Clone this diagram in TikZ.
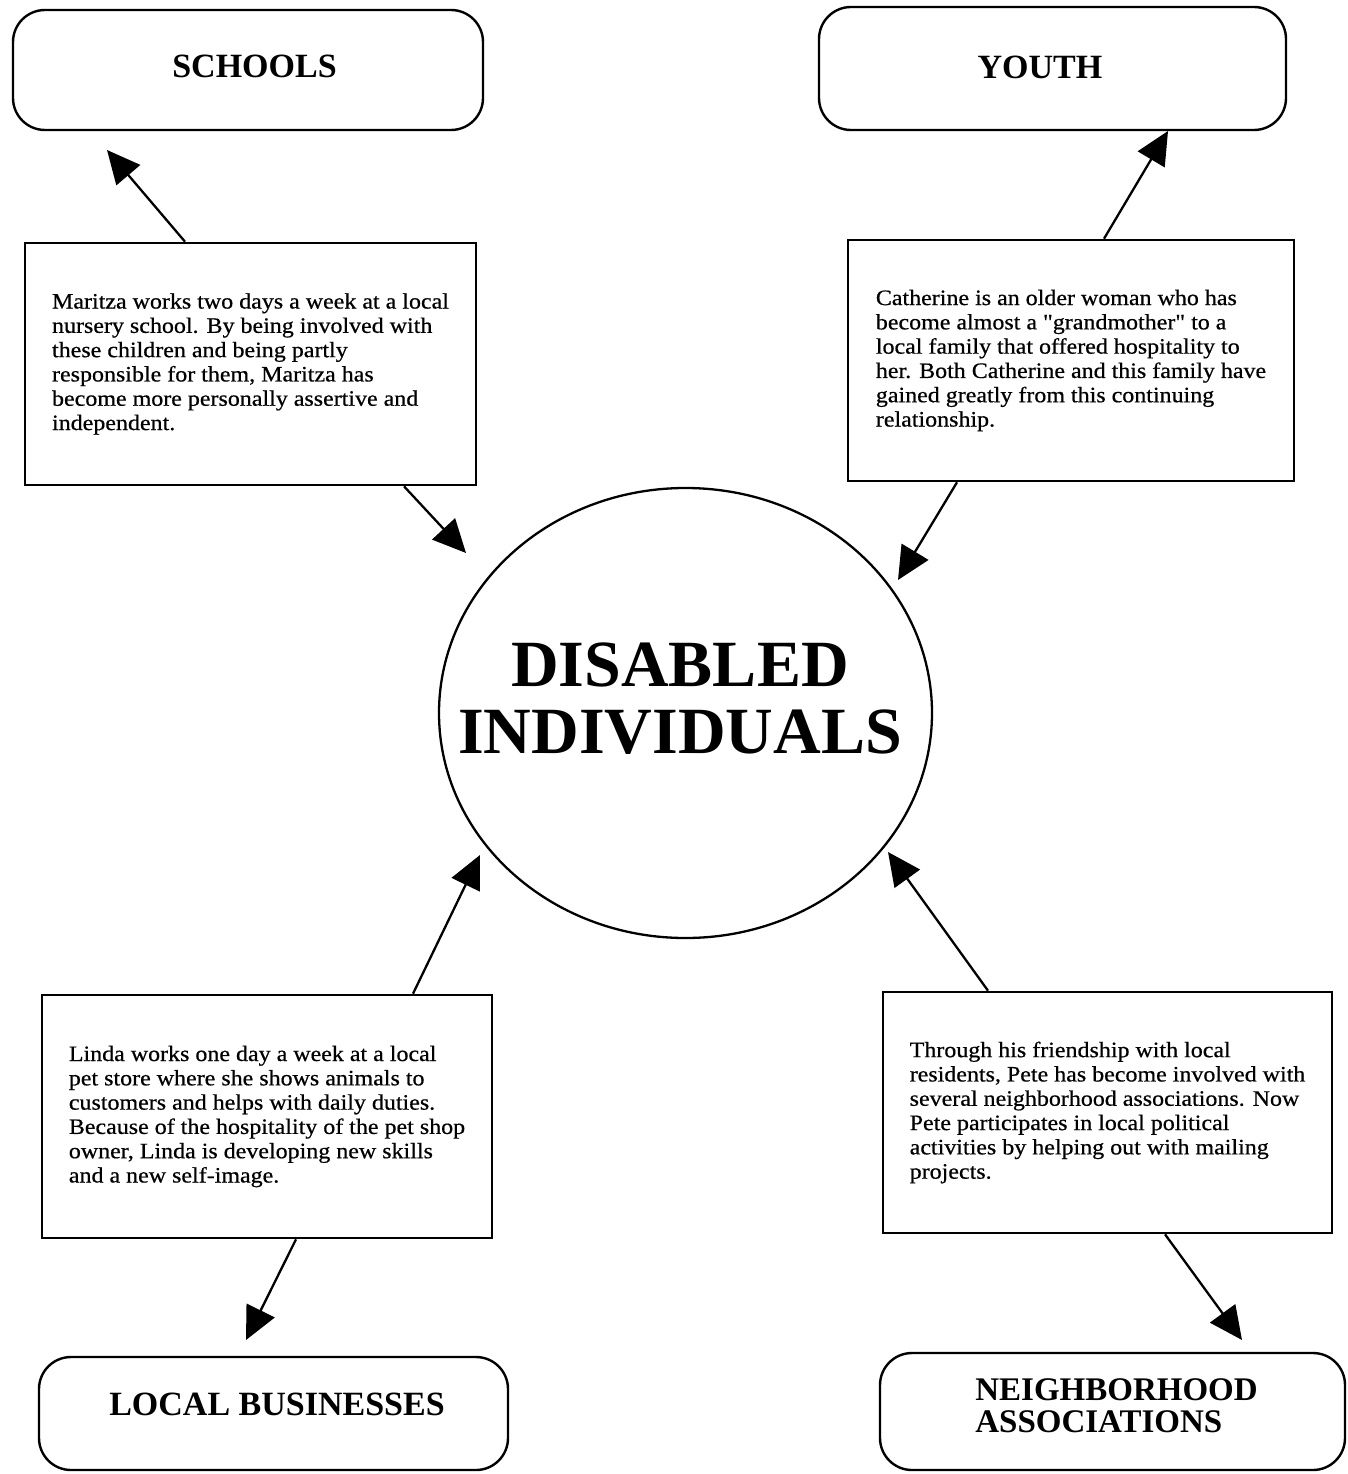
\documentclass[tikz,border=0pt]{standalone}
\usepackage{fontspec}
\setmainfont{Liberation Serif}
\newfontfamily\bodyfont{Liberation Serif}[FakeStretch=1.09, FakeBold=0.6, Ligatures=TeXOff]
\usetikzlibrary{arrows.meta,shapes.geometric}

\begin{document}
\begin{tikzpicture}[x=1pt,y=-1pt,
  story/.style={draw, line width=2.6pt, rectangle, inner sep=0pt, align=left,
    font=\bodyfont\fontsize{22pt}{24.3pt}\selectfont},
  group/.style={draw, line width=2.4pt, rounded corners=32pt, rectangle, inner sep=0pt},
  grouptitle/.style={inner sep=0pt, align=left, font=\bfseries\fontsize{34pt}{32pt}\selectfont},
  link/.style={line width=2.3pt, -{Triangle[length=33pt,width=31pt]}},
]
\useasboundingbox (0,0) rectangle (1348,1474);

% community groups
\node[group, minimum width=470pt, minimum height=120pt] (schools) at (248,70) {};
\node[grouptitle] (schoolsT) at (254.5,66.5) {SCHOOLS};
\node[group, minimum width=467pt, minimum height=123pt] (youth) at (1052.5,68.5) {};
\node[grouptitle] (youthT) at (1040,67.5) {YOUTH};
\node[group, minimum width=469pt, minimum height=113pt] (business) at (273.5,1413.5) {};
\node[grouptitle] (businessT) at (277,1404.5) {LOCAL BUSINESSES};
\node[group, minimum width=465pt, minimum height=117pt] (neighbor) at (1112.5,1411.5) {};
\node[grouptitle, font=\bfseries\fontsize{33pt}{32pt}\selectfont] (neighborT) at (1116.5,1406) {NEIGHBORHOOD\\ASSOCIATIONS};

% centre
\node[draw, ellipse, line width=2.3pt, minimum width=493pt, minimum height=450pt, inner sep=0pt] (disabled) at (685.5,713) {};
\node[inner sep=0pt, align=center, font=\bfseries\fontsize{66pt}{67pt}\selectfont] (disabledT) at (680,699) {DISABLED\\INDIVIDUALS};

% stories
\node[story, minimum width=451pt, minimum height=242pt] (maritza) at (250.5,364) {Maritza works two days a week at a local\\nursery school. By being involved with\\these children and being partly\\responsible for them, Maritza has\\become more personally assertive and\\independent.};
\node[story, minimum width=446pt, minimum height=241pt] (catherine) at (1071,360.5) {Catherine is an older woman who has\\become almost a "grandmother" to a\\local family that offered hospitality to\\her. Both Catherine and this family have\\gained greatly from this continuing\\relationship.};
\node[story, minimum width=450pt, minimum height=243pt] (linda) at (267,1116.5) {Linda works one day a week at a local\\pet store where she shows animals to\\customers and helps with daily duties.\\Because of the hospitality of the pet shop\\owner, Linda is developing new skills\\and a new self-image.};
\node[story, minimum width=449pt, minimum height=241pt] (pete) at (1107.5,1112.5) {Through his friendship with local\\residents, Pete has become involved with\\several neighborhood associations. Now\\Pete participates in local political\\activities by helping out with mailing\\projects.};

% arrow tips
\coordinate (toSchools) at (107,150);
\coordinate (toYouth) at (1168,131);
\coordinate (toBusiness) at (246,1340);
\coordinate (toNeighbor) at (1242,1340);
\coordinate (inNW) at (466,553);
\coordinate (inNE) at (898,580);
\coordinate (inSW) at (480,855);
\coordinate (inSE) at (888,852);

% connectors
\draw[link] ([xshift=-65.5pt]maritza.north) -- (toSchools);
\draw[link] ([xshift=153.5pt]maritza.south) -- (inNW);
\draw[link] ([xshift=33pt]catherine.north) -- (toYouth);
\draw[link] ([xshift=-114pt]catherine.south) -- (inNE);
\draw[link] ([xshift=146pt]linda.north) -- (inSW);
\draw[link] ([xshift=29pt]linda.south) -- (toBusiness);
\draw[link] ([xshift=-119.5pt]pete.north) -- (inSE);
\draw[link] ([xshift=57.5pt]pete.south) -- (toNeighbor);
\end{tikzpicture}
\end{document}
